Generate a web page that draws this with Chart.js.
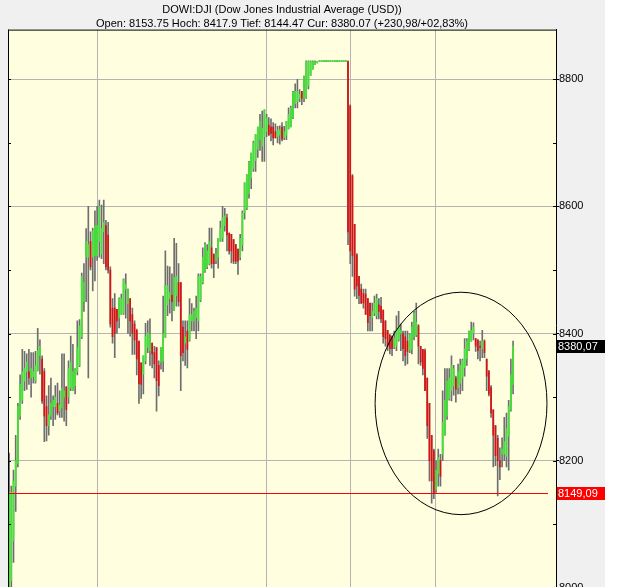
<!DOCTYPE html>
<html lang="de">
<head>
<meta charset="UTF-8">
<title>DOWI:DJI</title>
<script src="https://cdn.jsdelivr.net/npm/chart.js"></script>
<style>
  html, body { margin: 0; padding: 0; background: #fff; overflow: hidden; }
  #wrap { width: 605px; height: 628px; }
</style>
</head>
<body>
<div id="wrap"><canvas id="dowChart" width="605" height="628"></canvas></div>
<script>
// OHLC rows per session: [open, high, low, close]
const day1 = [
  [7990,8212,7985,8150],[8011,8160,7995,8150],[8074,8185,8040,8168],[8160,8240,8120,8200],
  [8195,8290,8190,8285],[8270,8335,8265,8320],[8295,8375,8290,8340],[8325,8372,8310,8345],
  [8340,8368,8312,8355],[8340,8375,8320,8330],[8330,8370,8300,8345],[8332,8370,8322,8340],
  [8325,8372,8322,8350],[8341,8408,8341,8373],[8365,8390,8336,8380],[8360,8365,8290,8294],
  [8340,8345,8230,8270],[8285,8302,8231,8255],[8255,8318,8240,8272],[8270,8330,8265,8290],
  [8285,8302,8255,8295],[8285,8318,8265,8300],[8290,8322,8272,8275],[8278,8310,8268,8288],
  [8283,8368,8268,8314],[8300,8368,8262,8310],[8316,8316,8255,8280],[8300,8357,8290,8345],
  [8315,8396,8310,8355],[8310,8383,8310,8340],[8318,8345,8305,8345],[8340,8420,8335,8378],
  [8350,8422,8348,8412],[8395,8495,8392,8490],[8450,8510,8435,8480],[8520,8565,8450,8545],
  [8520,8600,8330,8540],[8545,8560,8500,8505],[8520,8566,8467,8561],[8522,8593,8483,8569]
];
const day2 = [
  [8522,8600,8515,8570],[8545,8610,8520,8600],[8525,8602,8518,8565],[8560,8610,8510,8575],
  [8570,8578,8500,8505],[8555,8575,8495,8500],[8500,8505,8410,8415],[8440,8455,8385,8395],
  [8440,8463,8362,8400],[8438,8438,8400,8420],[8425,8456,8409,8455],[8430,8462,8430,8455],
  [8432,8486,8430,8485],[8470,8494,8424,8478],[8447,8470,8400,8470],[8455,8455,8396,8420],
  [8430,8440,8367,8400],[8415,8420,8367,8390],[8405,8407,8335,8360],[8388,8388,8290,8321],
  [8354,8354,8298,8320],[8336,8365,8305,8365],[8357,8416,8352,8396],[8378,8420,8370,8401],
  [8373,8423,8350,8399],[8385,8385,8346,8368],[8370,8380,8330,8352],[8378,8378,8278,8326],
  [8350,8357,8302,8318],[8355,8378,8344,8378],[8357,8459,8340,8400],[8394,8530,8394,8475],
  [8445,8506,8428,8475],[8455,8505,8432,8465],[8460,8494,8420,8450],[8436,8550,8436,8488],
  [8460,8542,8443,8490],[8480,8510,8443,8450],[8480,8480,8310,8365],[8410,8420,8357,8370],
  [8385,8420,8350,8395],[8404,8420,8346,8375],[8390,8455,8388,8430],[8420,8447,8404,8430],
  [8420,8440,8404,8435],[8425,8459,8392,8440],[8420,8494,8404,8490],[8452,8494,8450,8490],
  [8480,8535,8478,8520],[8498,8543,8496,8540],[8505,8540,8502,8530],[8510,8566,8508,8545],
  [8535,8566,8503,8510],[8525,8525,8488,8510],[8515,8534,8510,8525],[8520,8550,8503,8550],
  [8545,8577,8545,8566],[8550,8600,8545,8582],[8570,8597,8561,8585],[8582,8588,8530,8555],
  [8558,8558,8525,8530],[8556,8556,8511,8530],[8548,8548,8510,8514],[8540,8540,8510,8514],
  [8533,8533,8493,8514],[8520,8556,8516,8550],[8540,8593,8530,8590],[8590,8637,8580,8637],
  [8597,8650,8595,8650],[8620,8671,8613,8670],[8645,8684,8628,8684],[8660,8703,8655,8700],
  [8672,8713,8655,8713],[8690,8725,8677,8725],[8705,8745,8688,8734],[8695,8750,8671,8723],
  [8710,8752,8671,8752]
];
const day3 = [
  [8718,8745,8710,8740],[8728,8740,8712,8712],[8725,8738,8703,8715],[8725,8732,8697,8708],
  [8718,8730,8708,8708],[8710,8726,8700,8720],[8712,8727,8698,8720],[8725,8732,8703,8706],
  [8708,8726,8705,8718],[8712,8734,8705,8734],[8722,8755,8722,8745],[8725,8758,8725,8755],
  [8740,8781,8738,8780],[8762,8793,8755,8781],[8765,8800,8755,8781],[8770,8784,8765,8776],
  [8781,8781,8760,8770],[8770,8805,8765,8805],[8772,8829,8770,8828],[8790,8829,8785,8828],
  [8806,8829,8806,8828],[8816,8829,8816,8828],[8823,8829,8823,8828],[8826,8828,8826,8828],
  [8828,8828,8828,8828],[8828,8828,8828,8828],[8828,8828,8828,8828],[8828,8828,8828,8828],
  [8828,8828,8828,8828],[8828,8828,8828,8828],[8828,8828,8828,8828],[8828,8828,8828,8828],
  [8828,8828,8828,8828],[8828,8828,8828,8828],[8828,8828,8828,8828],[8828,8828,8828,8828],
  [8828,8828,8828,8828],[8828,8829,8540,8560]
];
const day4 = [
  [8758,8760,8510,8530],[8648,8650,8490,8522],[8572,8572,8459,8470],[8524,8526,8455,8475],
  [8490,8490,8447,8460],[8470,8478,8447,8448],[8463,8470,8440,8448],[8462,8470,8430,8430],
  [8455,8455,8404,8417],[8448,8448,8404,8428],[8425,8448,8404,8435],[8432,8459,8428,8448],
  [8428,8462,8423,8455],[8445,8455,8423,8435],[8443,8457,8417,8423],[8437,8437,8385,8395],
  [8420,8420,8380,8392],[8405,8405,8373,8380],[8398,8398,8368,8376],[8396,8396,8365,8376],
  [8378,8404,8376,8393],[8380,8428,8373,8405],[8390,8435,8388,8412],[8400,8415,8373,8405],
  [8400,8404,8357,8376],[8395,8404,8350,8365],[8388,8404,8352,8372],[8373,8400,8370,8398],
  [8375,8418,8368,8410],[8395,8435,8390,8432],[8398,8448,8395,8418],[8412,8414,8352,8380],
  [8380,8380,8350,8355],[8375,8375,8335,8345],[8373,8376,8310,8310],[8330,8330,8235,8255],
  [8290,8290,8168,8200],[8240,8240,8133,8168],[8216,8218,8140,8149.09]
];
const day5 = [
  [8153.75,8200,8150,8185],[8180,8218,8160,8205],[8200,8210,8160,8175],[8210,8310,8200,8260],
  [8240,8345,8240,8295],[8270,8345,8265,8325],[8298,8345,8295,8330],[8310,8365,8294,8350],
  [8318,8350,8303,8345],[8330,8333,8292,8312],[8315,8352,8305,8340],[8322,8360,8305,8350],
  [8330,8360,8310,8358],[8346,8392,8333,8376],[8360,8392,8350,8388],[8375,8404,8373,8404],
  [8388,8417.9,8388,8405],[8400,8417,8390,8410],[8392,8392,8372,8380],[8390,8390,8360,8373],
  [8380,8388,8357,8378],[8376,8405,8362,8388],[8388,8390,8362,8370],[8360,8360,8310,8333],
  [8340,8342,8302,8305],[8315,8318,8268,8275],[8280,8280,8190,8240],[8255,8255,8192,8208],
  [8235,8240,8144.47,8200],[8200,8220,8170,8190],[8210,8236,8190,8218],[8210,8268,8200,8230],
  [8207,8275,8190,8250],[8238,8295,8185,8285],[8280,8360,8278,8335],[8320,8388,8305,8380.07]
];

const slots = Array.from({ length: 249 }, (_, i) => String(i));   // x categories
const dayBreaks = [39.9, 116.7, 155.0, 193.5];                     // session separators (slot units)
const yTicks = [8000, 8100, 8200, 8300, 8400, 8500, 8600, 8700, 8800];
const prevClose = 8149.09;
const lastPrice = 8380.07;
const circled = { from: 166.3, to: 244.4, low: 8115, high: 8465 };

const titleLines = [
  'DOWI:DJI (Dow Jones Industrial Average (USD))',
  'Open: 8153.75 Hoch: 8417.9 Tief: 8144.47 Cur: 8380.07 (+230,98/+02,83%)'
];

const ohlc = [].concat(day1, day2, day3, day4, day5);
const wicks = ohlc.map(b => [b[2], b[1]]);
const bodies = ohlc.map(b => [Math.min(b[0], b[3]), Math.max(b[0], b[3])]);
const bodyColors = ohlc.map(b => b[3] >= b[0] ? '#3ee830' : '#dc1010');

const FONT = 'Liberation Sans, Arial, sans-serif';

const decor = {
  id: 'decor',
  beforeDraw(chart) {
    const { ctx, chartArea: a, width, height } = chart;
    ctx.save();
    ctx.fillStyle = '#f0f0f0';
    ctx.fillRect(0, 0, width, height);
    ctx.fillStyle = '#ffffdf';
    ctx.fillRect(a.left, a.top, a.right - a.left, a.bottom - a.top);
    ctx.restore();
  },
  beforeDatasetsDraw(chart) {
    const { ctx, chartArea: a, scales: { x } } = chart;
    ctx.save();
    ctx.fillStyle = '#b4b4b4';
    dayBreaks.forEach(v => {
      ctx.fillRect(Math.round(x.getPixelForValue(v)), a.top, 1, a.bottom - a.top);
    });
    ctx.restore();
  },
  afterDatasetsDraw(chart) {
    const { ctx, chartArea: a, scales: { x, y } } = chart;
    ctx.save();
    // previous close line
    ctx.fillStyle = '#ff0000';
    ctx.fillRect(a.left, Math.round(y.getPixelForValue(prevClose)), a.right - 8 - a.left, 1);
    // hand drawn ellipse
    const x0 = x.getPixelForValue(circled.from), x1 = x.getPixelForValue(circled.to);
    const y0 = y.getPixelForValue(circled.high), y1 = y.getPixelForValue(circled.low);
    ctx.strokeStyle = '#000';
    ctx.lineWidth = 1;
    ctx.beginPath();
    ctx.ellipse((x0 + x1) / 2, (y0 + y1) / 2, (x1 - x0) / 2, (y1 - y0) / 2, 0, 0, Math.PI * 2);
    ctx.stroke();
    ctx.restore();
  },
  afterDraw(chart) {
    const { ctx, chartArea: a, scales: { y } } = chart;
    ctx.save();
    ctx.fillStyle = '#000';
    ctx.fillRect(a.left, a.top, 1, a.bottom - a.top);
    ctx.fillRect(a.left, a.top, a.right - a.left, 1);
    // small inner ticks on both sides
    yTicks.forEach(v => {
      const ty = Math.round(y.getPixelForValue(v));
      ctx.fillRect(a.left, ty, 3, 1);
      ctx.fillRect(a.right - 3, ty, 3, 1);
    });
    // price tags on the axis
    ctx.font = '11px ' + FONT;
    ctx.textBaseline = 'middle';
    [[lastPrice, '#000'], [prevClose, '#ff0000']].forEach(([v, bg]) => {
      const ty = Math.round(y.getPixelForValue(v));
      ctx.fillStyle = bg;
      ctx.fillRect(a.right + 1, ty - 6, 48, 13);
      ctx.fillStyle = '#fff';
      ctx.fillText(v.toFixed(2).replace('.', ','), a.right + 2, ty + 1);
    });
    ctx.restore();
  }
};

new Chart(document.getElementById('dowChart'), {
  type: 'bar',
  data: {
    labels: slots,
    datasets: [
      { data: wicks, backgroundColor: '#6e6e6e', barThickness: 1, minBarLength: 1, grouped: false, order: 2 },
      { data: bodies, backgroundColor: bodyColors, barThickness: 1, minBarLength: 1, grouped: false, order: 1 }
    ]
  },
  options: {
    responsive: false,
    animation: false,
    layout: { padding: { left: 8, right: 0, top: 0, bottom: 0 } },
    plugins: {
      legend: { display: false },
      tooltip: { enabled: false },
      title: {
        display: true,
        text: titleLines,
        fullSize: false,
        color: '#000',
        font: { family: FONT, size: 11, weight: 'normal', lineHeight: 1.3 },
        padding: { top: 2.5, bottom: -1.5 }
      }
    },
    scales: {
      x: { display: false },
      y: {
        position: 'right',
        min: 7947,
        max: 8878.3,
        afterBuildTicks: s => { s.ticks = yTicks.map(v => ({ value: v })); },
        afterFit: s => { s.width = 49; },
        border: { color: '#000' },
        grid: {
          color: c => c.tick && c.tick.value % 200 === 0 ? '#b4b4b4' : 'rgba(0,0,0,0)',
          tickColor: c => c.tick && c.tick.value % 200 === 0 ? '#000' : 'rgba(0,0,0,0)',
          tickLength: 3
        },
        ticks: {
          color: '#000',
          padding: 0,
          font: { family: FONT, size: 11 },
          callback: v => v % 200 === 0 ? String(v) : ''
        }
      }
    }
  },
  plugins: [decor]
});
</script>
</body>
</html>
